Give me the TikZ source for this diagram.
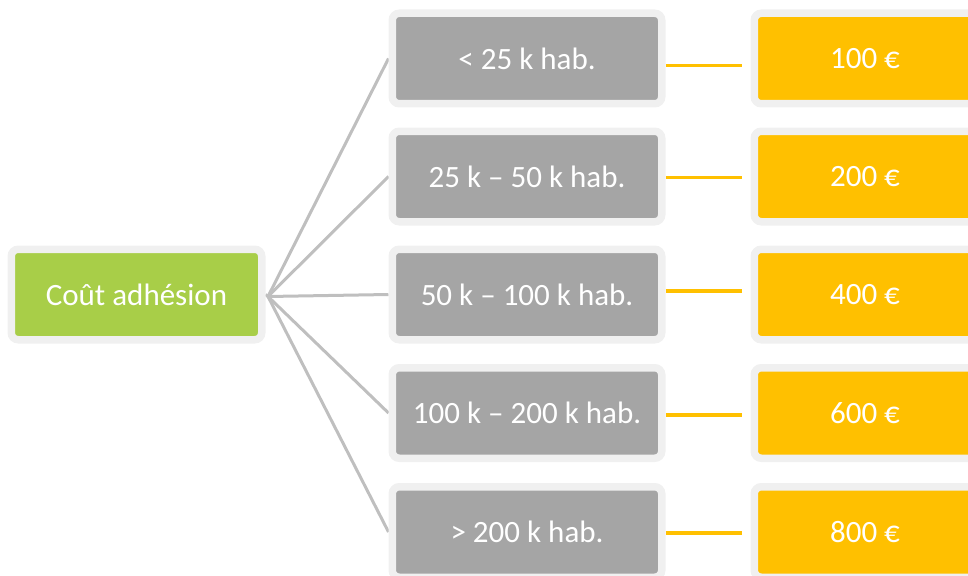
\documentclass[tikz,border=0pt]{standalone}
\usepackage{fontspec}
\setmainfont{Carlito}
\usetikzlibrary{backgrounds}
\definecolor{boxgreen}{HTML}{A8CE48}
\definecolor{boxgray}{HTML}{A5A5A5}
\definecolor{boxyellow}{HTML}{FFC000}
\definecolor{rimgray}{HTML}{F0F0F0}
\definecolor{linegray}{HTML}{BFBFBF}
\begin{document}
\begin{tikzpicture}[x=1pt,y=-1pt,
  box/.style={draw=rimgray, line width=7.5pt, rounded corners=7pt, text=white,
    font=\fontsize{31}{37}\selectfont, inner sep=0pt, minimum height=90.5pt},
  rootbox/.style={box, fill=boxgreen, minimum width=250.5pt},
  rangebox/.style={box, fill=boxgray, minimum width=269.5pt},
  pricebox/.style={box, fill=boxyellow, minimum width=221.5pt},
  branch/.style={draw=linegray, line width=3pt},
  link/.style={draw=boxyellow, line width=3.5pt, shorten >=8.5pt}]
\useasboundingbox (0,0) rectangle (968,575);
\clip (0,0) rectangle (968,575);
\node[rootbox] (root) at (136.5,294.5) {Coût adhésion};
\coordinate (hub) at (268,296.5);
\node[rangebox] (r1) at (527,58.5) {< 25 k hab.};
\node[rangebox] (r2) at (527,176.5) {25 k – 50 k hab.};
\node[rangebox] (r3) at (527,294.5) {50 k – 100 k hab.};
\node[rangebox] (r4) at (527,413) {100 k – 200 k hab.};
\node[rangebox] (r5) at (527,532) {> 200 k hab.};
\node[pricebox] (p1) at (865,58.5) {100 €};
\node[pricebox] (p2) at (865,176.5) {200 €};
\node[pricebox] (p3) at (865,294.5) {400 €};
\node[pricebox] (p4) at (865,413) {600 €};
\node[pricebox] (p5) at (865,532) {800 €};
\begin{scope}[on background layer]
  \foreach \i in {1,...,5} {
    \draw[branch] (hub) -- (r\i.west);
  }
  \foreach \i/\dy in {1/-7,2/-1,3/3.5,4/-2,5/-1} {
    \draw[link] ([yshift=\dy pt]r\i.east) -- ([yshift=\dy pt]p\i.west);
  }
  \draw[branch] (root.east) -- (hub);
\end{scope}
\end{tikzpicture}
\end{document}
